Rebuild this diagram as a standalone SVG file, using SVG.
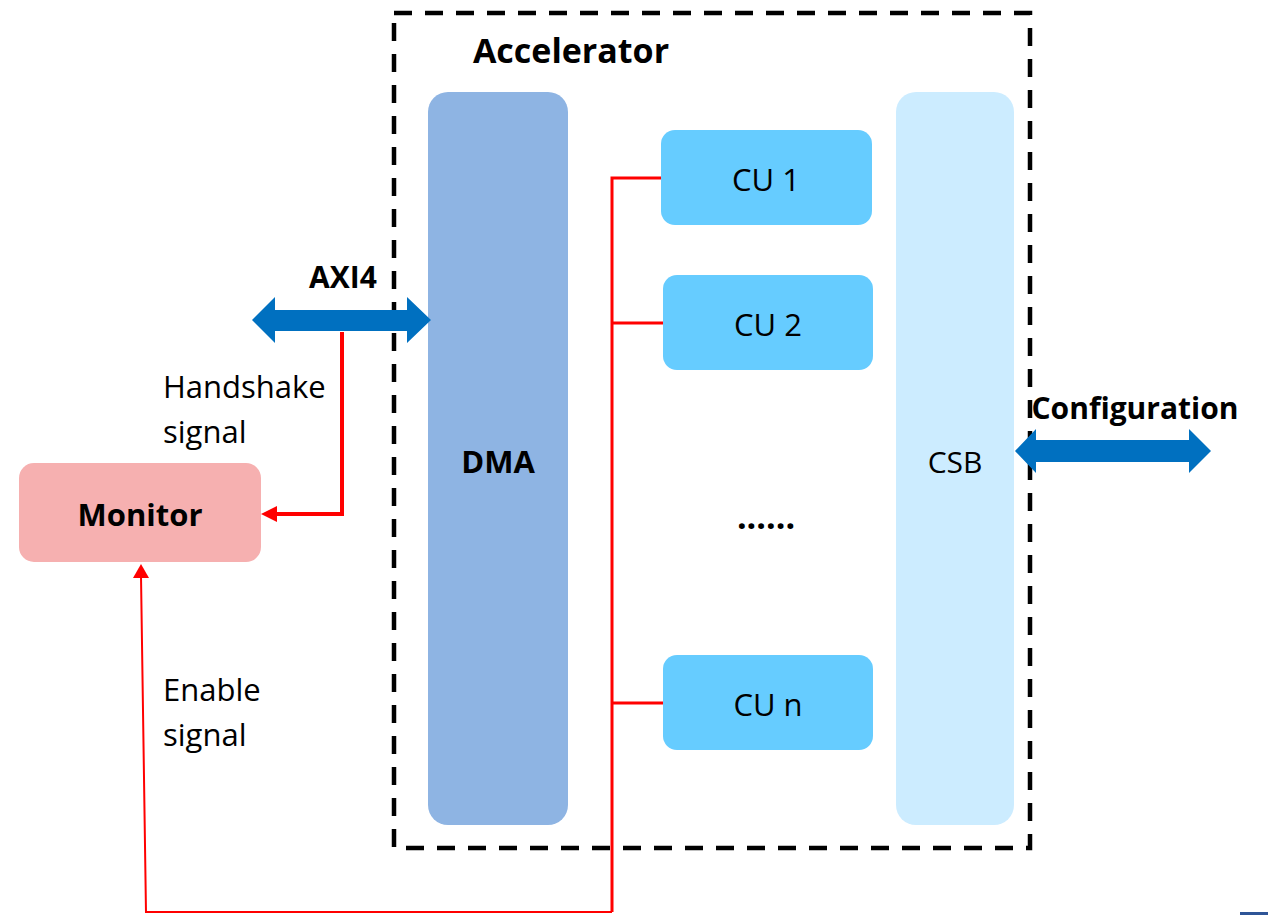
<svg xmlns="http://www.w3.org/2000/svg" width="1268" height="915" viewBox="0 0 1268 915">
  <style>
    .lbl { font-family: "Open Sans", "Liberation Sans", sans-serif; fill: #000; }
    .b { font-weight: bold; }
    .wire { fill: none; stroke: #FF0000; stroke-linejoin: miter; }
    .bus { fill: #0070C0; }
  </style>
  <rect width="1268" height="915" fill="#FFFFFF"/>

  <!-- accelerator boundary -->
  <g id="accelerator">
    <rect x="394" y="13" width="636" height="835" fill="none" stroke="#000" stroke-width="4.5" stroke-dasharray="18,13"/>
    <text class="lbl b" x="571" y="63" font-size="34" text-anchor="middle">Accelerator</text>
  </g>

  <g id="dma">
    <rect x="428" y="92" width="140" height="733" rx="20" fill="#8EB4E3"/>
    <text class="lbl b" x="498" y="473" font-size="31" text-anchor="middle">DMA</text>
  </g>

  <g id="csb">
    <rect x="896" y="92" width="118" height="733" rx="20" fill="#CCECFF"/>
    <text class="lbl" x="955" y="473" font-size="30" text-anchor="middle">CSB</text>
  </g>

  <g id="cu1">
    <rect x="661" y="130" width="211" height="95" rx="14" fill="#66CCFF"/>
    <text class="lbl" x="766" y="191" font-size="31" text-anchor="middle">CU 1</text>
  </g>
  <g id="cu2">
    <rect x="663" y="275" width="210" height="95" rx="14" fill="#66CCFF"/>
    <text class="lbl" x="768" y="336" font-size="31" text-anchor="middle">CU 2</text>
  </g>
  <g id="cun">
    <rect x="663" y="655" width="210" height="95" rx="14" fill="#66CCFF"/>
    <text class="lbl" x="768" y="716" font-size="31" text-anchor="middle">CU n</text>
  </g>
  <g id="ellipsis">
    <text class="lbl b" x="766" y="529" font-size="34" text-anchor="middle">......</text>
  </g>

  <g id="monitor">
    <rect x="19" y="463" width="242" height="99" rx="15" fill="#F6B0B0"/>
    <text class="lbl b" x="140" y="526" font-size="31" text-anchor="middle">Monitor</text>
  </g>

  <g id="connectors">
    <!-- AXI4 bus -->
    <polygon class="bus" points="252,320 275,297 275,310 407,310 407,297 431,320 407,343 407,331 275,331 275,343"/>
    <text class="lbl b" x="343" y="288" font-size="30" text-anchor="middle">AXI4</text>
    <!-- configuration bus -->
    <polygon class="bus" points="1015,451 1036,429 1036,440 1189,440 1189,429 1211,451 1189,473 1189,462 1036,462 1036,473"/>
    <text class="lbl b" x="1135" y="419" font-size="30" text-anchor="middle">Configuration</text>

    <!-- handshake tap to monitor -->
    <polyline class="wire" stroke-width="4" points="342,332 342,514 270,514"/>
    <polygon points="261,514 277,506 277,522" fill="#FF0000"/>
    <text class="lbl" x="163" y="398" font-size="31">Handshake</text>
    <text class="lbl" x="163" y="443" font-size="31">signal</text>

    <!-- enable bus to compute units -->
    <polyline class="wire" stroke-width="3" points="661,178 612,178 612,912"/>
    <line class="wire" stroke-width="3" x1="612" y1="323" x2="663" y2="323"/>
    <line class="wire" stroke-width="3" x1="612" y1="703" x2="663" y2="703"/>
    <!-- enable return to monitor -->
    <polyline class="wire" stroke-width="2" points="612,912 146,912 141,576"/>
    <polygon points="141,564 133,578 149,578" fill="#FF0000"/>
    <text class="lbl" x="163" y="701" font-size="31">Enable</text>
    <text class="lbl" x="163" y="746" font-size="31">signal</text>
  </g>

  <rect x="1240" y="912" width="28" height="3" fill="#2F5597"/>
</svg>
